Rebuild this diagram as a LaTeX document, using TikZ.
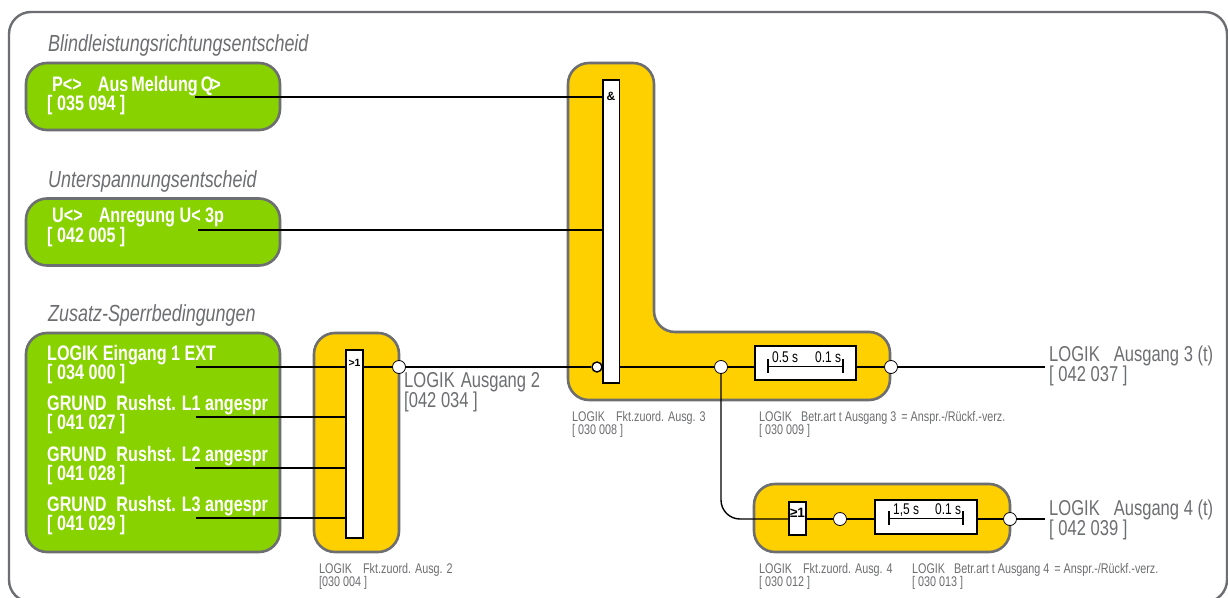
\documentclass[tikz,border=0pt]{standalone}
\usepackage{fontspec}
\setmainfont{Liberation Sans}
\newfontfamily\narrowfont[FakeStretch=0.77]{Liberation Sans}
\usepackage{tikz}
\usetikzlibrary{positioning}
\usetikzlibrary{calc}
\definecolor{framegray}{HTML}{6D6E71}
\definecolor{boxgreen}{HTML}{88D200}
\definecolor{boxyellow}{HTML}{FFD000}
\newcommand{\tightlines}{\setlength{\lineskiplimit}{-20pt}}
\tikzset{
    greenbox/.style={draw=framegray, line width=2.6pt, fill=boxgreen, rounded corners=21pt, inner sep=0pt, minimum width=254pt},
    yellowbox/.style={draw=framegray, line width=2.6pt, fill=boxyellow, rounded corners=21pt, inner sep=0pt},
    gatebox/.style={draw=black, line width=1.5pt, fill=white, inner sep=0pt},
    signal/.style={draw=black, line width=1.4pt},
    dot/.style={circle, draw=black, line width=0.8pt, fill=white, inner sep=0pt, minimum size=13pt},
    heading/.style={anchor=base west, inner sep=0pt, text=framegray, font=\narrowfont\itshape\fontsize{23.3}{23}\selectfont},
    inputtext/.style={anchor=north west, inner sep=0pt, align=left, text=white, font=\narrowfont\bfseries\fontsize{21}{19.5}\selectfont\tightlines},
    outputtext/.style={anchor=north west, inner sep=0pt, align=left, text=framegray, font=\narrowfont\fontsize{21.5}{20}\selectfont\tightlines},
    smalltext/.style={anchor=north west, inner sep=0pt, align=left, text=framegray, font=\narrowfont\fontsize{14}{13}\selectfont\tightlines},
    timetext/.style={anchor=base west, inner sep=0pt, text=black, font=\narrowfont\fontsize{15.5}{14}\selectfont},
    gatetext/.style={inner sep=0pt, text=black, font=\bfseries\fontsize{10.5}{10}\selectfont}
}
\begin{document}
\begin{tikzpicture}[x=1pt,y=-1pt]
        \useasboundingbox (0,0) rectangle (1228,597);
        \fill[white] (0,0) rectangle (1228,597);
        \draw[framegray, line width=2.4pt, rounded corners=22pt] (9,12) rectangle (1227,602);

        \node[heading] (headblind) at (48,51) {Blindleistungsrichtungsentscheid};
        \node[heading] (headunter) at (48,187) {Unterspannungsentscheid};
        \node[heading] (headzusatz) at (48,321) {Zusatz-Sperrbedingungen};

        \node[greenbox, minimum height=67pt] (greenblind) at (153,96.5) {};
        \node[greenbox, minimum height=67pt] (greenunter) at (153,232) {};
        \node[greenbox, minimum height=219pt] (greenzusatz) at (153,442.5) {};

        \draw[yellowbox] (568,200) -- (568,63) -- (654,63) -- (654,332) -- (890,332) -- (890,400) -- (568,400) -- cycle;
        \node[yellowbox, minimum width=85pt, minimum height=219pt] (orpanel) at (356.5,442.5) {};
        \node[yellowbox, minimum width=256pt, minimum height=68pt] (delaypanel) at (882,518) {};

        \node[inputtext] (txtblind) at (47,76) {\hspace*{5pt}P<>\hspace*{16pt}Aus\hspace*{3pt}Meldung\hspace*{3pt}Q\hspace*{-2pt}>\\{[} 035 094 ]};
        \node[inputtext] (txtunter) at (47,208) {\hspace*{5pt}U<>\hspace*{16pt}Anregung U< 3p\\{[} 042 005 ]};
        \node[inputtext] (txteingang) at (47,345) {LOGIK Eingang 1 EXT\\{[} 034 000 ]};
        \node[inputtext] (txtlone) at (47,395) {GRUND\hspace*{10pt}Rushst. L1 angespr\\{[} 041 027 ]};
        \node[inputtext] (txtltwo) at (47,446) {GRUND\hspace*{10pt}Rushst. L2 angespr\\{[} 041 028 ]};
        \node[inputtext] (txtlthree) at (47,496) {GRUND\hspace*{10pt}Rushst. L3 angespr\\{[} 041 029 ]};

        \coordinate (srcblind) at (195,97);
        \coordinate (srcunter) at (198,230);
        \coordinate (srceingang) at (196,367);
        \coordinate (srclone) at (196,417);
        \coordinate (srcltwo) at (195,468);
        \coordinate (srclthree) at (196,518);
        \coordinate (endthree) at (1045,367);
        \coordinate (endfour) at (1045,519);

        \node[gatebox, minimum width=17pt, minimum height=188pt] (orgate) at (354.5,444) {};
        \node[gatebox, minimum width=16.5pt, minimum height=303pt] (andgate) at (611,231.5) {};
        \node[gatebox, minimum width=17pt, minimum height=33pt] (orgatetwo) at (797.5,518.5) {};
        \node[gatebox, minimum width=101pt, minimum height=34pt] (timerthree) at (805.5,363) {};
        \node[gatebox, minimum width=102pt, minimum height=34pt] (timerfour) at (926,517) {};

        \node[gatetext] (orlabel) at (354.5,363) {>1};
        \node[gatetext, font=\bfseries\fontsize{12}{12}\selectfont] (andlabel) at (611,96) {\&};
        \node[gatetext, font=\bfseries\fontsize{13.5}{14}\selectfont] (orlabeltwo) at (797.5,513) {≥1};

        \node[dot] (dotor) at (399,367) {};
        \node[dot, minimum size=10pt, line width=1.4pt] (dotand) at (597,367) {};
        \node[dot] (dotsplit) at (721,367) {};
        \node[dot] (dotthree) at (891,367) {};
        \node[dot] (dotmiddle) at (840,519) {};
        \node[dot] (dotfour) at (1010,519) {};

        \draw[signal] (srcblind) -- (srcblind -| andgate.west);
        \draw[signal] (srcunter) -- (srcunter -| andgate.west);
        \draw[signal] (srceingang) -- (srceingang -| orgate.west);
        \draw[signal] (srclone) -- (srclone -| orgate.west);
        \draw[signal] (srcltwo) -- (srcltwo -| orgate.west);
        \draw[signal] (srclthree) -- (srclthree -| orgate.west);
        \draw[signal] (dotor -| orgate.east) -- (dotor);
        \draw[signal] (dotor) -- (dotand);
        \draw[signal] (dotand -| andgate.east) -- (dotsplit);
        \draw[signal] (dotsplit) -- (dotsplit -| timerthree.west);
        \draw[signal] (dotthree -| timerthree.east) -- (dotthree);
        \draw[signal] (dotthree) -- (endthree);
        \draw[signal, rounded corners=19pt] (dotsplit) |- (dotmiddle -| orgatetwo.west);
        \draw[signal] (dotmiddle -| orgatetwo.east) -- (dotmiddle);
        \draw[signal] (dotmiddle) -- (dotmiddle -| timerfour.west);
        \draw[signal] (dotfour -| timerfour.east) -- (dotfour);
        \draw[signal] (dotfour) -- (endfour);

        \draw[signal] (768,359) -- (768,373);
        \draw[signal] (843,359) -- (843,373);
        \draw[signal] (768,366.5) -- (843,366.5);
        \draw[signal] (889,511) -- (889,525);
        \draw[signal] (963,511) -- (963,525);
        \draw[signal] (889,518.5) -- (963,518.5);

        \node[timetext] (timeonthree) at (772,362) {0.5 s};
        \node[timetext] (timeoffthree) at (815,362) {0.1 s};
        \node[timetext] (timeonfour) at (893,514) {1,5 s};
        \node[timetext] (timeofffour) at (935,514) {0.1 s};

        \node[outputtext] (txtausgangtwo) at (404,372) {LOGIK\hspace*{6pt}Ausgang 2\\{[}042 034 ]};
        \node[outputtext] (txtausgangthree) at (1049,346) {LOGIK\hspace*{14pt}Ausgang 3 (t)\\{[} 042 037 ]};
        \node[outputtext] (txtausgangfour) at (1049,500) {LOGIK\hspace*{14pt}Ausgang 4 (t)\\{[} 042 039 ]};

        \node[smalltext] (txtfktzwei) at (319,563) {LOGIK\hspace*{11pt}Fkt.zuord. Ausg. 2\\{[}030 004 ]};
        \node[smalltext] (txtfktdrei) at (572,411) {LOGIK\hspace*{11pt}Fkt.zuord. Ausg. 3\\{[} 030 008 ]};
        \node[smalltext] (txtbetrdrei) at (759,411) {LOGIK\hspace*{9pt}Betr.art t Ausgang 3\hspace*{5pt}= Anspr.-/Rückf.-verz.\\{[} 030 009 ]};
        \node[smalltext] (txtfktvier) at (759,563) {LOGIK\hspace*{11pt}Fkt.zuord. Ausg. 4\\{[} 030 012 ]};
        \node[smalltext] (txtbetrvier) at (912,563) {LOGIK\hspace*{9pt}Betr.art t Ausgang 4\hspace*{5pt}= Anspr.-/Rückf.-verz.\\{[} 030 013 ]};
    \end{tikzpicture}
\end{document}
